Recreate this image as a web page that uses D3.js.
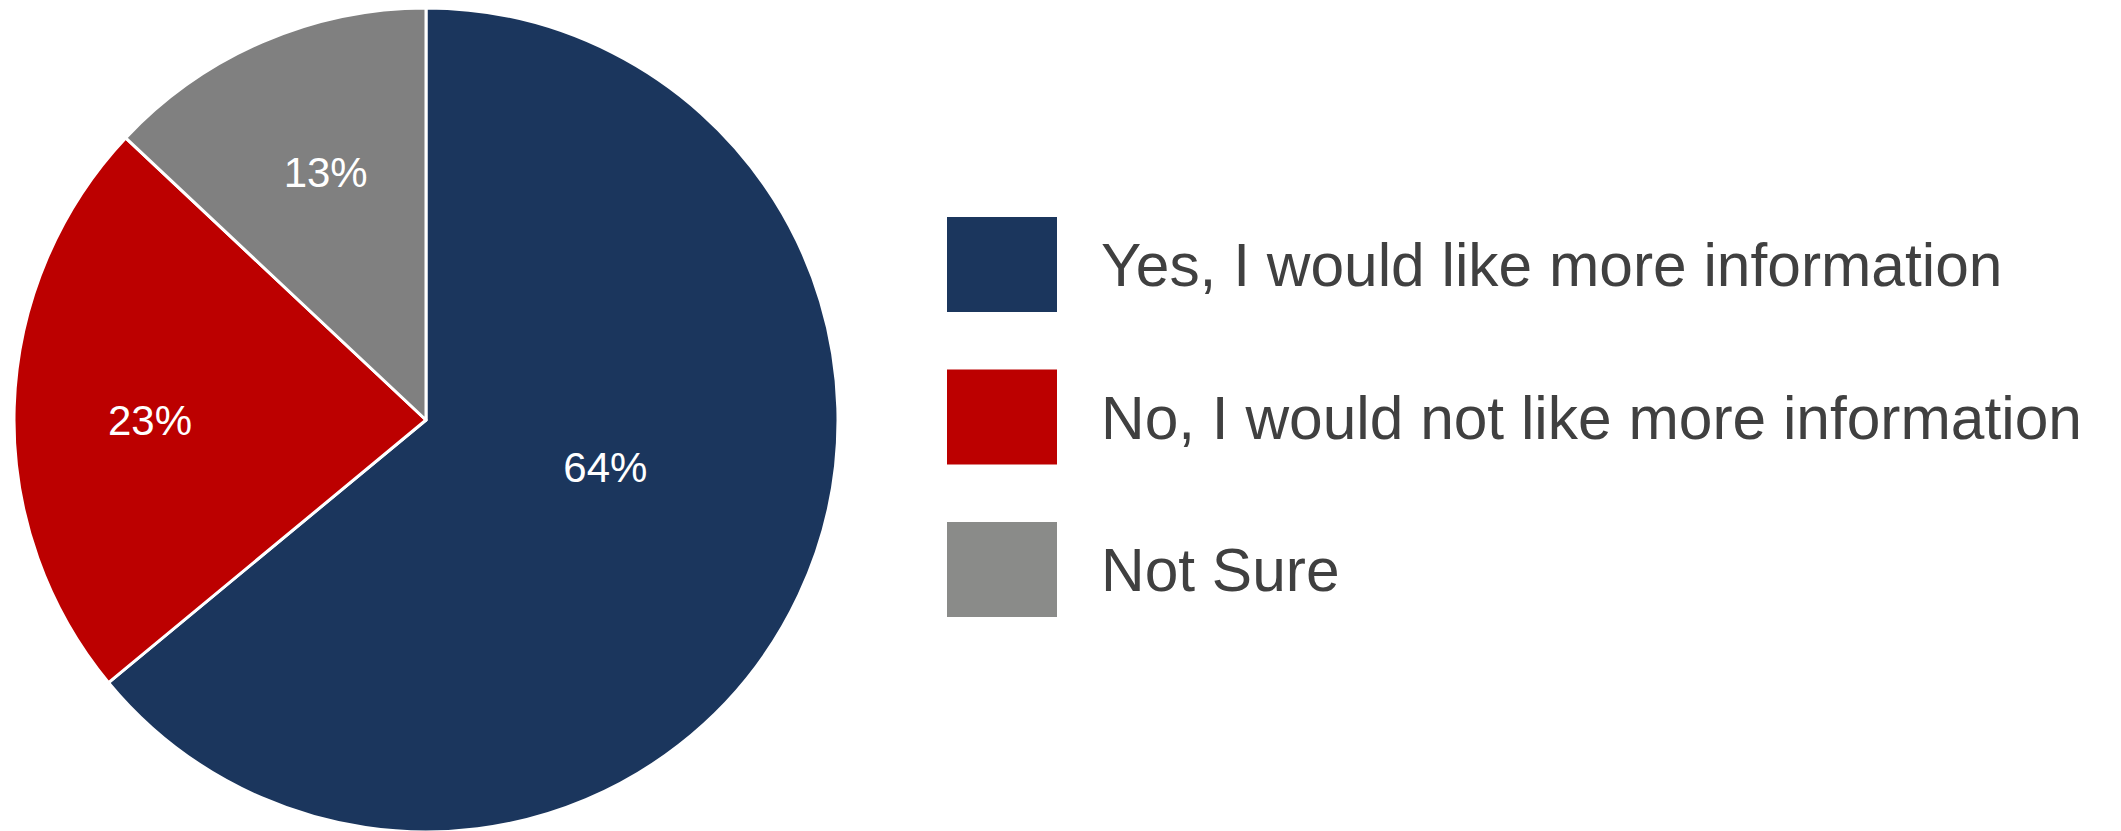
<!DOCTYPE html>
<html>
<head>
<meta charset="utf-8">
<script src="https://cdn.jsdelivr.net/npm/d3@7"></script>
<style>
  html, body { margin: 0; padding: 0; background: #fff; }
  svg { display: block; }
</style>
</head>
<body>
<div id="chart"></div>
<script>
// survey answers, clockwise from 12 o'clock
var categories = ["Yes, I would like more information", "No, I would not like more information", "Not Sure"];
var values = [64, 23, 13];
var sliceColors = ["#1b365d", "#bc0000", "#808080"];
var legendColors = ["#1b365d", "#bc0000", "#8a8b89"];

var width = 2121, height = 831;

var svg = d3.select("#chart").append("svg")
    .attr("width", width)
    .attr("height", height);

var cx = 426, cy = 420, radius = 412;

var pie = d3.pie().sort(null).value(function(d) { return d; });
var arcs = pie(values);

var arc = d3.arc().innerRadius(0).outerRadius(radius);

var g = svg.append("g").attr("transform", "translate(" + cx + "," + cy + ")");

g.selectAll("path")
  .data(arcs)
  .enter().append("path")
    .attr("d", arc)
    .attr("fill", function(d, i) { return sliceColors[i]; })
    .attr("stroke", "#fff")
    .attr("stroke-width", 3)
    .attr("stroke-linejoin", "round");

// label placement: share of radius + small angle nudge (degrees), like excel's best fit
var labelFrac = [0.45, 0.67, 0.65];
var labelNudge = [-10.5, -1.8, 1.4];

g.selectAll("text.pct")
  .data(arcs)
  .enter().append("text")
    .attr("class", "pct")
    .attr("transform", function(d, i) {
      var r = radius * labelFrac[i];
      var a = (d.startAngle + d.endAngle) / 2 + labelNudge[i] * Math.PI / 180;
      return "translate(" + (r * Math.sin(a)) + "," + (-r * Math.cos(a)) + ")";
    })
    .attr("text-anchor", "middle")
    .attr("dy", "0.36em")
    .attr("fill", "#fff")
    .style("font-family", "'Liberation Sans', Arial, sans-serif")
    .style("font-size", "42px")
    .text(function(d) { return d.data + "%"; });

// legend
var y = d3.scalePoint()
    .domain(categories)
    .range([264, 569]);

var item = svg.append("g").selectAll("g")
  .data(categories)
  .enter().append("g")
    .attr("transform", function(d) { return "translate(947," + y(d) + ")"; });

item.append("rect")
    .attr("x", 0)
    .attr("y", -47)
    .attr("width", 110)
    .attr("height", 95)
    .attr("fill", function(d, i) { return legendColors[i]; });

// the original face is a bit condensed, squeeze horizontally
item.append("text")
    .attr("transform", "translate(154,0) scale(0.975,1)")
    .attr("dy", "0.36em")
    .attr("fill", "#404040")
    .style("font-family", "'Liberation Sans', sans-serif")
    .style("font-size", "62px")
    .text(function(d) { return d; });
</script>
</body>
</html>
